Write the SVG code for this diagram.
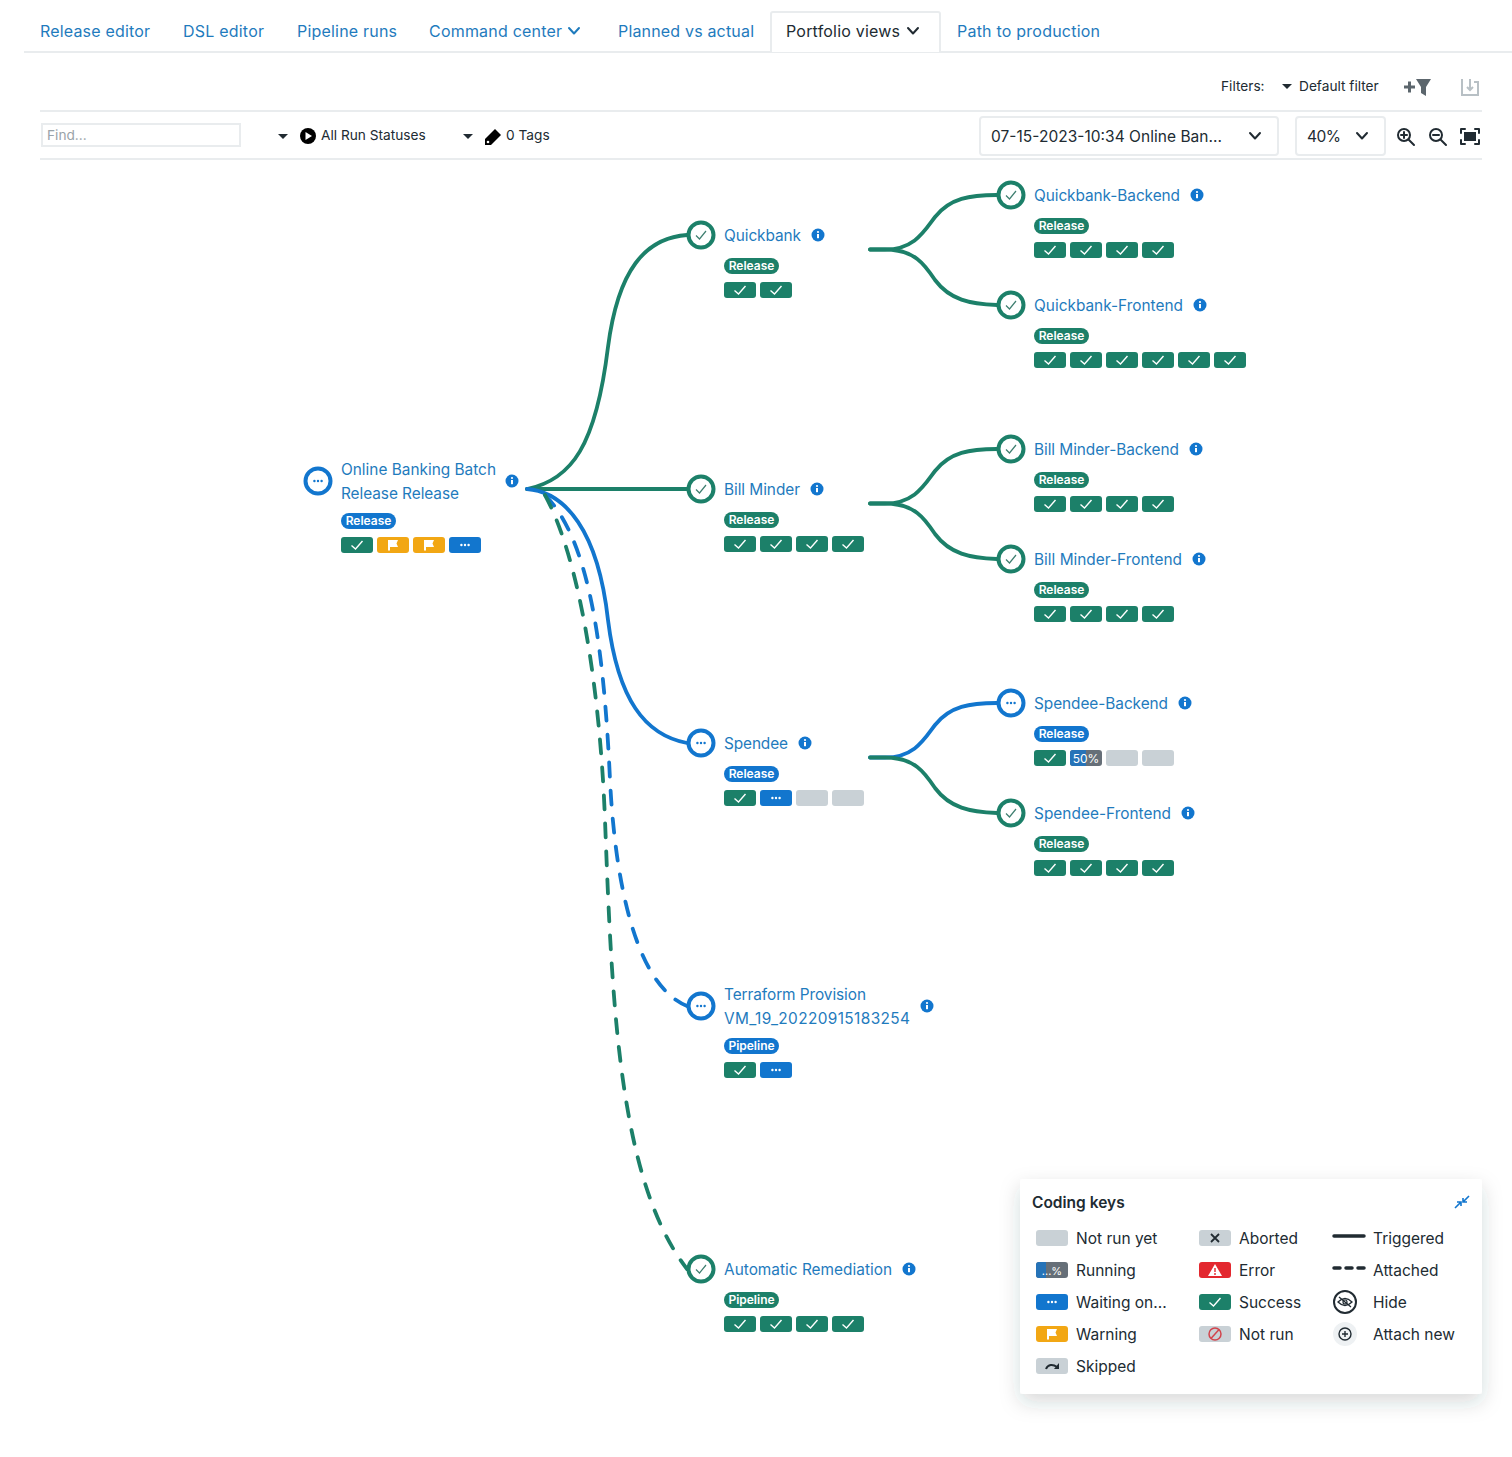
<svg xmlns="http://www.w3.org/2000/svg" width="1512" height="1457" viewBox="0 0 1512 1457">
<style>
text{font-family:Inter,"Noto Sans","Liberation Sans",sans-serif;font-size:15.5px;fill:#212b32}
.link{fill:#1f7bbd;font-size:15.4px}
.tab{fill:#1f7bbd;font-size:16px}
.active{font-size:16px}
.small{font-size:13.7px}
.hint{font-size:13.7px;fill:#9aa3a9}
.pill{font-size:12px;font-weight:600;fill:#fff;text-anchor:middle}
.rule{stroke:#e9ecee;stroke-width:2;fill:none}
.edge{fill:none;stroke-width:3.8;stroke-linecap:round}
.g{stroke:#1c8069}
.b{stroke:#1276ce}
.dash{stroke-dasharray:14 14}
.ring{fill:#fff;stroke-width:4}
.ic{fill:none;stroke:#212b32;stroke-width:2;stroke-linecap:round;stroke-linejoin:round}
.fg{fill:#1c8069}.fb{fill:#1276ce}.fy{fill:#f2a714}.fs{fill:#c9d1d6}
</style>
<defs>
<filter id="sh" x="-10%" y="-15%" width="120%" height="135%"><feDropShadow dx="0" dy="8" stdDeviation="10" flood-color="#27343c" flood-opacity="0.18"/></filter>
<g id="chk"><polyline points="-5.5,0.5 -1.5,4 5.5,-4" fill="none" stroke="#fff" stroke-width="1.4"/></g>
<g id="dots" fill="#fff"><circle cx="-3.6" r="1.2"/><circle r="1.2"/><circle cx="3.6" r="1.2"/></g>
<g id="bS"><rect x="-16" y="-8" width="32" height="16" rx="3" class="fg"/><use href="#chk"/></g>
<g id="bW"><rect x="-16" y="-8" width="32" height="16" rx="3" class="fb"/><use href="#dots"/></g>
<g id="bF"><rect x="-16" y="-8" width="32" height="16" rx="3" class="fy"/><path d="M-5 -5H5L3.500 -1.500L5 2H-3V5.500H-5Z" fill="#fff"/></g>
<g id="bN"><rect x="-16" y="-8" width="32" height="16" rx="3" class="fs"/></g>
<g id="info"><circle r="6.5" fill="#1276ce"/><rect x="-1" y="-1" width="2" height="4.200" fill="#fff"/><circle cy="-3" r="1.100" fill="#fff"/></g>
<g id="okRing"><circle r="12.500" class="ring g"/><polyline points="-5,0.500 -1.500,4 5,-4" fill="none" stroke="#3f7f70" stroke-width="1.200"/></g>
<g id="waitRing"><circle r="12.500" class="ring b"/><g fill="#1276ce"><circle cx="-3.600" r="1.200"/><circle r="1.200"/><circle cx="3.600" r="1.200"/></g></g>
<path id="chev" d="M-5 -3L0 2.500L5 -3" fill="none" stroke-width="2" stroke-linecap="round" stroke-linejoin="round"/>
</defs>
<rect width="1512" height="1457" fill="#fff"/>

<g id="toolbar">
<path class="rule" d="M24 52H1512"/>
<path d="M771 52V14Q771 12 773 12H938Q940 12 940 14V52" fill="#fff" stroke="#e9ecee" stroke-width="2"/>
<text class="tab" x="40" y="37" textLength="110">Release editor</text>
<text class="tab" x="183" y="37" textLength="81">DSL editor</text>
<text class="tab" x="297" y="37" textLength="100">Pipeline runs</text>
<text class="tab" x="429" y="37" textLength="133">Command center</text>
<use href="#chev" x="574" y="31" stroke="#1f7bbd"/>
<text class="tab" x="618" y="37" textLength="136">Planned vs actual</text>
<text class="active" x="786" y="37" textLength="114">Portfolio views</text>
<use href="#chev" x="913" y="31" stroke="#212b32"/>
<text class="tab" x="957" y="37" textLength="143">Path to production</text>
<text class="small" x="1221" y="91">Filters:</text>
<path d="M1282 84H1292L1287 89Z" fill="#212b32"/>
<text class="small" x="1299" y="91">Default filter</text>
<path d="M1404 87H1415M1409.500 81.500V92.500" stroke="#5c666d" stroke-width="3"/>
<path d="M1416 79H1431L1426 87V96L1421 93V87Z" fill="#5c666d"/>
<path d="M1462 79V95H1478V82H1474M1470 79V90M1467 87L1470 90L1473 87" fill="none" stroke="#b8c0c5" stroke-width="2"/>
<path class="rule" d="M40 111H1482M40 159H1482"/>
<rect x="42" y="124" width="198" height="22" fill="#fff" stroke="#e9ecee" stroke-width="2"/>
<text class="hint" x="47" y="140">Find...</text>
<path d="M278 134H288L283 139Z" fill="#212b32"/>
<circle cx="308" cy="136" r="8" fill="#000"/><path d="M305.500 132V140L312 136Z" fill="#fff"/>
<text class="small" x="321" y="140">All Run Statuses</text>
<path d="M463 134H473L468 139Z" fill="#212b32"/>
<path d="M495 129L501 135L491 145H485V139Z" fill="#000"/><circle cx="488" cy="142" r="1.300" fill="#fff"/>
<text class="small" x="506" y="140">0 Tags</text>
<rect x="980" y="117" width="298" height="38" rx="3" fill="#fff" stroke="#e9ecee" stroke-width="2"/>
<text x="991" y="142" textLength="231">07-15-2023-10:34 Online Ban...</text>
<use href="#chev" x="1255" y="136" stroke="#212b32"/>
<rect x="1296" y="117" width="89" height="38" rx="3" fill="#fff" stroke="#e9ecee" stroke-width="2"/>
<text x="1307" y="142" textLength="34">40%</text>
<use href="#chev" x="1362" y="136" stroke="#212b32"/>
<g class="ic"><circle cx="1404" cy="135" r="6"/><path d="M1408.500 139.500L1414 145M1401 135H1407M1404 132V138"/></g>
<g class="ic"><circle cx="1436" cy="135" r="6"/><path d="M1440.500 139.500L1446 145M1433 135H1439"/></g>
<path class="ic" d="M1461 133V129H1465M1475 129H1479V133M1479 140V144H1475M1465 144H1461V140"/>
<rect x="1464" y="132" width="12" height="9" fill="#212b32"/>
</g>

<g id="connectors">
<path class="edge g" d="M527 489C572 480 596 445 608 347C618 270 645 238 687 235"/>
<path class="edge g" d="M527 489H688"/>
<path class="edge b" d="M527 489C565 492 598 530 608 620C618 700 645 735 687 743"/>
<path class="edge b dash" d="M545 495C590 540 604 650 610 780C615 880 635 985 687 1006"/>
<path class="edge g dash" d="M545 495C580 560 600 690 605 820C612 1000 618 1180 687 1269"/>
<path class="edge g" d="M870 249.500H885C915 249.500 925 230 935 217C950 198 970 195 997 195"/>
<path class="edge g" d="M870 249.500H885C915 249.500 925 265 935 280C950 300 970 304 997 305"/>
<path class="edge g" d="M870 503.500H885C915 503.500 925 484 935 471C950 452 970 449 997 449"/>
<path class="edge g" d="M870 503.500H885C915 503.500 925 519 935 534C950 554 970 558 997 559"/>
<path class="edge b" d="M870 757.500H885C915 757.500 925 738 935 725C950 706 970 703 997 703"/>
<path class="edge g" d="M870 757.500H885C915 757.500 925 773 935 788C950 808 970 812 997 813"/>
</g>

<g id="node-root">
<use href="#waitRing" x="318" y="481"/>
<text class="link" x="341" y="475" textLength="155">Online Banking Batch</text>
<text class="link" x="341" y="499" textLength="118">Release Release</text>
<use href="#info" x="512" y="481"/>
<rect x="341" y="513" width="55" height="16" rx="8" class="fb"/><text class="pill" x="368.500" y="525.300">Release</text>
<use href="#bS" x="357" y="545"/><use href="#bF" x="393" y="545"/><use href="#bF" x="429" y="545"/><use href="#bW" x="465" y="545"/>
</g>

<g id="node-quickbank">
<use href="#okRing" x="701" y="235"/>
<text class="link" x="724" y="241" textLength="77">Quickbank</text>
<use href="#info" x="818" y="235"/>
<rect x="724" y="258" width="55" height="16" rx="8" class="fg"/><text class="pill" x="751.500" y="270.300">Release</text>
<use href="#bS" x="740" y="290"/><use href="#bS" x="776" y="290"/>
</g>
<g id="node-quickbank-backend">
<use href="#okRing" x="1011" y="195"/>
<text class="link" x="1034" y="201" textLength="146">Quickbank-Backend</text>
<use href="#info" x="1197" y="195"/>
<rect x="1034" y="218" width="55" height="16" rx="8" class="fg"/><text class="pill" x="1061.500" y="230.300">Release</text>
<use href="#bS" x="1050" y="250"/><use href="#bS" x="1086" y="250"/><use href="#bS" x="1122" y="250"/><use href="#bS" x="1158" y="250"/>
</g>
<g id="node-quickbank-frontend">
<use href="#okRing" x="1011" y="305"/>
<text class="link" x="1034" y="311" textLength="149">Quickbank-Frontend</text>
<use href="#info" x="1200" y="305"/>
<rect x="1034" y="328" width="55" height="16" rx="8" class="fg"/><text class="pill" x="1061.500" y="340.300">Release</text>
<use href="#bS" x="1050" y="360"/><use href="#bS" x="1086" y="360"/><use href="#bS" x="1122" y="360"/><use href="#bS" x="1158" y="360"/><use href="#bS" x="1194" y="360"/><use href="#bS" x="1230" y="360"/>
</g>

<g id="node-bill-minder">
<use href="#okRing" x="701" y="489"/>
<text class="link" x="724" y="495" textLength="76">Bill Minder</text>
<use href="#info" x="817" y="489"/>
<rect x="724" y="512" width="55" height="16" rx="8" class="fg"/><text class="pill" x="751.500" y="524.300">Release</text>
<use href="#bS" x="740" y="544"/><use href="#bS" x="776" y="544"/><use href="#bS" x="812" y="544"/><use href="#bS" x="848" y="544"/>
</g>
<g id="node-bill-minder-backend">
<use href="#okRing" x="1011" y="449"/>
<text class="link" x="1034" y="455" textLength="145">Bill Minder-Backend</text>
<use href="#info" x="1196" y="449"/>
<rect x="1034" y="472" width="55" height="16" rx="8" class="fg"/><text class="pill" x="1061.500" y="484.300">Release</text>
<use href="#bS" x="1050" y="504"/><use href="#bS" x="1086" y="504"/><use href="#bS" x="1122" y="504"/><use href="#bS" x="1158" y="504"/>
</g>
<g id="node-bill-minder-frontend">
<use href="#okRing" x="1011" y="559"/>
<text class="link" x="1034" y="565" textLength="148">Bill Minder-Frontend</text>
<use href="#info" x="1199" y="559"/>
<rect x="1034" y="582" width="55" height="16" rx="8" class="fg"/><text class="pill" x="1061.500" y="594.300">Release</text>
<use href="#bS" x="1050" y="614"/><use href="#bS" x="1086" y="614"/><use href="#bS" x="1122" y="614"/><use href="#bS" x="1158" y="614"/>
</g>

<g id="node-spendee">
<use href="#waitRing" x="701" y="743"/>
<text class="link" x="724" y="749" textLength="64">Spendee</text>
<use href="#info" x="805" y="743"/>
<rect x="724" y="766" width="55" height="16" rx="8" class="fb"/><text class="pill" x="751.500" y="778.300">Release</text>
<use href="#bS" x="740" y="798"/><use href="#bW" x="776" y="798"/><use href="#bN" x="812" y="798"/><use href="#bN" x="848" y="798"/>
</g>
<g id="node-spendee-backend">
<use href="#waitRing" x="1011" y="703"/>
<text class="link" x="1034" y="709" textLength="134">Spendee-Backend</text>
<use href="#info" x="1185" y="703"/>
<rect x="1034" y="726" width="55" height="16" rx="8" class="fb"/><text class="pill" x="1061.500" y="738.300">Release</text>
<use href="#bS" x="1050" y="758"/>
<rect x="1070" y="750" width="32" height="16" rx="3" fill="#666f78"/>
<path d="M1086 750H1073Q1070 750 1070 753V763Q1070 766 1073 766H1086Z" fill="#2673b8"/>
<text x="1086" y="762.500" text-anchor="middle" style="font-size:12px;fill:#fff">50%</text>
<use href="#bN" x="1122" y="758"/><use href="#bN" x="1158" y="758"/>
</g>
<g id="node-spendee-frontend">
<use href="#okRing" x="1011" y="813"/>
<text class="link" x="1034" y="819" textLength="137">Spendee-Frontend</text>
<use href="#info" x="1188" y="813"/>
<rect x="1034" y="836" width="55" height="16" rx="8" class="fg"/><text class="pill" x="1061.500" y="848.300">Release</text>
<use href="#bS" x="1050" y="868"/><use href="#bS" x="1086" y="868"/><use href="#bS" x="1122" y="868"/><use href="#bS" x="1158" y="868"/>
</g>

<g id="node-terraform">
<use href="#waitRing" x="701" y="1006"/>
<text class="link" x="724" y="1000" textLength="142">Terraform Provision</text>
<text class="link" x="724" y="1024" textLength="186">VM_19_20220915183254</text>
<use href="#info" x="927" y="1006"/>
<rect x="724" y="1038" width="55" height="16" rx="8" class="fb"/><text class="pill" x="751.500" y="1050.300">Pipeline</text>
<use href="#bS" x="740" y="1070"/><use href="#bW" x="776" y="1070"/>
</g>
<g id="node-remediation">
<use href="#okRing" x="701" y="1269"/>
<text class="link" x="724" y="1275" textLength="168">Automatic Remediation</text>
<use href="#info" x="909" y="1269"/>
<rect x="724" y="1292" width="55" height="16" rx="8" class="fg"/><text class="pill" x="751.500" y="1304.300">Pipeline</text>
<use href="#bS" x="740" y="1324"/><use href="#bS" x="776" y="1324"/><use href="#bS" x="812" y="1324"/><use href="#bS" x="848" y="1324"/>
</g>

<g id="coding-keys">
<rect x="1020" y="1179" width="462" height="215" rx="3" fill="#fff" filter="url(#sh)"/>
<text x="1032" y="1208" font-weight="600">Coding keys</text>
<path d="M1469 1196L1463 1202M1463 1198V1202H1467M1455 1208L1461 1202M1457 1202H1461V1206" fill="none" stroke="#1276ce" stroke-width="1.600"/>

<use href="#bN" x="1052" y="1238"/><text x="1076" y="1244">Not run yet</text>
<rect x="1036" y="1262" width="32" height="16" rx="3" fill="#666f78"/>
<path d="M1046 1262H1039Q1036 1262 1036 1265V1275Q1036 1278 1039 1278H1046Z" fill="#2673b8"/>
<text x="1052" y="1274.500" text-anchor="middle" style="font-size:11px;fill:#fff">...%</text>
<text x="1076" y="1276">Running</text>
<use href="#bW" x="1052" y="1302"/><text x="1076" y="1308">Waiting on...</text>
<use href="#bF" x="1052" y="1334"/><text x="1076" y="1340">Warning</text>
<use href="#bN" x="1052" y="1366"/><path d="M1046 1369C1048 1364 1053 1364 1057 1367" fill="none" stroke="#212b32" stroke-width="2"/><path d="M1059 1363V1369H1054Z" fill="#212b32"/><text x="1076" y="1372">Skipped</text>

<use href="#bN" x="1215" y="1238"/><path d="M1211 1234L1219 1242M1219 1234L1211 1242" stroke="#212b32" stroke-width="1.800"/><text x="1239" y="1244">Aborted</text>
<rect x="1199" y="1262" width="32" height="16" rx="3" fill="#e3282f"/><path d="M1215 1264L1222 1276H1208Z" fill="#fff"/><path d="M1215 1268V1272M1215 1273V1275" stroke="#e3282f" stroke-width="1.400"/><text x="1239" y="1276">Error</text>
<use href="#bS" x="1215" y="1302"/><text x="1239" y="1308">Success</text>
<use href="#bN" x="1215" y="1334"/><circle cx="1215" cy="1334" r="6" fill="none" stroke="#d2444c" stroke-width="1.500"/><path d="M1211 1338.500L1219 1329.500" stroke="#d2444c" stroke-width="1.500"/><text x="1239" y="1340">Not run</text>

<path d="M1334 1236H1364" stroke="#212b32" stroke-width="3.500" stroke-linecap="round"/><text x="1373" y="1244">Triggered</text>
<path d="M1334 1268H1364" stroke="#212b32" stroke-width="3.500" stroke-linecap="round" stroke-dasharray="6 6"/><text x="1373" y="1276">Attached</text>
<circle cx="1345" cy="1302" r="11" fill="#fff" stroke="#212b32" stroke-width="2"/><path d="M1338 1302Q1345 1295 1352 1302Q1345 1309 1338 1302ZM1339 1297L1351 1307" fill="none" stroke="#212b32" stroke-width="1.300"/><circle cx="1345" cy="1302" r="2" fill="none" stroke="#212b32" stroke-width="1.200"/><text x="1373" y="1308">Hide</text>
<circle cx="1345" cy="1334" r="12" fill="#eef1f3"/><circle cx="1345" cy="1334" r="6" fill="none" stroke="#212b32" stroke-width="1.400"/><path d="M1342 1334H1348M1345 1331V1337" stroke="#212b32" stroke-width="1.400"/><text x="1373" y="1340">Attach new</text>
</g>
</svg>
